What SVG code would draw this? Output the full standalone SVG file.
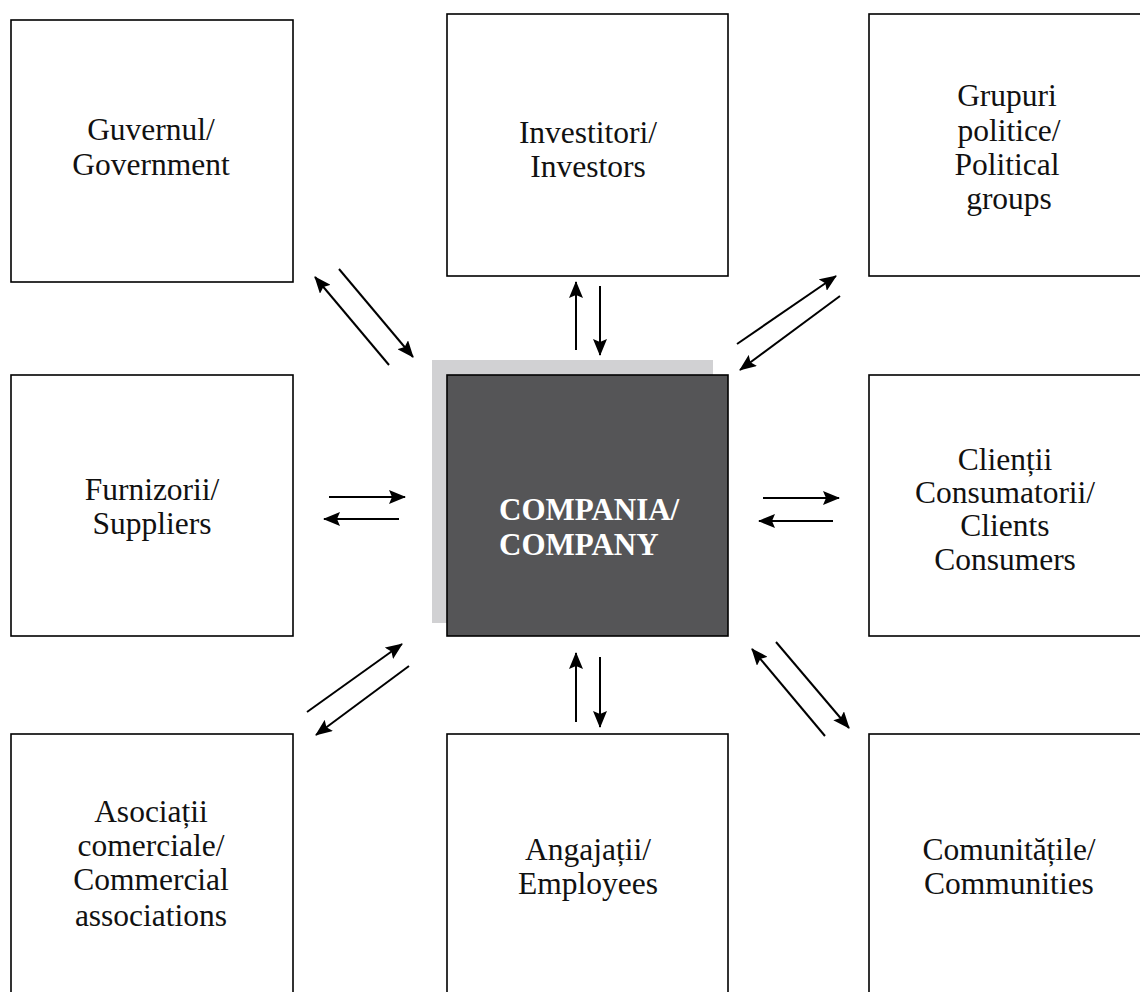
<svg xmlns="http://www.w3.org/2000/svg" width="1140" height="992" viewBox="0 0 1140 992">
<defs>
<style>
.box{fill:#ffffff;stroke:#000000;stroke-width:1.6}
.lbl{font-family:"Liberation Serif","Times New Roman",serif;font-size:31.5px;fill:#111111;text-anchor:middle}
.clbl{font-family:"Liberation Serif","Times New Roman",serif;font-size:31px;font-weight:bold;fill:#ffffff}
.arr{stroke:#000000;stroke-width:2;fill:none;marker-end:url(#ah)}
</style>
<marker id="ah" markerUnits="userSpaceOnUse" markerWidth="18" markerHeight="14" refX="16" refY="7" orient="auto">
<path d="M0,0 L17,7 L0,14 L3,7 z" fill="#000000"/>
</marker>
</defs>
<rect x="0" y="0" width="1140" height="992" fill="#ffffff"/>

<g id="node-guvernul">
<rect class="box" x="11" y="20" width="282" height="262"/>
<text class="lbl" x="151" y="140">Guvernul/</text>
<text class="lbl" x="151" y="175">Government</text>
</g>

<g id="node-investitori">
<rect class="box" x="447" y="14" width="281" height="262"/>
<text class="lbl" x="588" y="143">Investitori/</text>
<text class="lbl" x="588" y="177">Investors</text>
</g>

<g id="node-grupuri">
<rect class="box" x="869" y="14" width="282" height="262"/>
<text class="lbl" x="1007" y="106">Grupuri</text>
<text class="lbl" x="1009" y="141">politice/</text>
<text class="lbl" x="1007" y="175">Political</text>
<text class="lbl" x="1009" y="209">groups</text>
</g>

<g id="node-furnizorii">
<rect class="box" x="11" y="375" width="282" height="261"/>
<text class="lbl" x="152" y="500">Furnizorii/</text>
<text class="lbl" x="152" y="534">Suppliers</text>
</g>

<g id="node-compania">
<rect x="432" y="360" width="281" height="263" fill="#d1d1d3"/>
<rect x="447" y="375" width="281" height="261" fill="#555557" stroke="#000000" stroke-width="1.6"/>
<text class="clbl" x="499" y="520">COMPANIA/</text>
<text class="clbl" x="499" y="555">COMPANY</text>
</g>

<g id="node-clientii">
<rect class="box" x="869" y="375" width="282" height="261"/>
<text class="lbl" x="1005" y="470">Clienții</text>
<text class="lbl" x="1005" y="503">Consumatorii/</text>
<text class="lbl" x="1005" y="536">Clients</text>
<text class="lbl" x="1005" y="570">Consumers</text>
</g>

<g id="node-asociatii">
<rect class="box" x="11" y="734" width="282" height="262"/>
<text class="lbl" x="151" y="822">Asociații</text>
<text class="lbl" x="151" y="856">comerciale/</text>
<text class="lbl" x="151" y="890">Commercial</text>
<text class="lbl" x="151" y="926">associations</text>
</g>

<g id="node-angajatii">
<rect class="box" x="447" y="734" width="281" height="262"/>
<text class="lbl" x="588" y="860">Angajații/</text>
<text class="lbl" x="588" y="894">Employees</text>
</g>

<g id="node-comunitatile">
<rect class="box" x="869" y="734" width="282" height="262"/>
<text class="lbl" x="1009" y="860">Comunitățile/</text>
<text class="lbl" x="1009" y="894">Communities</text>
</g>

<g id="connectors">
<line class="arr" x1="389" y1="365" x2="315" y2="277"/>
<line class="arr" x1="339" y1="269" x2="413" y2="357"/>
<line class="arr" x1="576" y1="350" x2="576" y2="282"/>
<line class="arr" x1="600" y1="286" x2="600" y2="355"/>
<line class="arr" x1="737" y1="344" x2="836" y2="276"/>
<line class="arr" x1="840" y1="296" x2="740" y2="370"/>
<line class="arr" x1="329" y1="497" x2="405" y2="497"/>
<line class="arr" x1="399" y1="519" x2="324" y2="519"/>
<line class="arr" x1="763" y1="498" x2="839" y2="498"/>
<line class="arr" x1="833" y1="521" x2="759" y2="521"/>
<line class="arr" x1="307" y1="712" x2="402" y2="644"/>
<line class="arr" x1="409" y1="666" x2="316" y2="735"/>
<line class="arr" x1="576" y1="722" x2="576" y2="653"/>
<line class="arr" x1="600" y1="657" x2="600" y2="727"/>
<line class="arr" x1="825" y1="736" x2="752" y2="649"/>
<line class="arr" x1="776" y1="642" x2="849" y2="728"/>
</g>
</svg>
